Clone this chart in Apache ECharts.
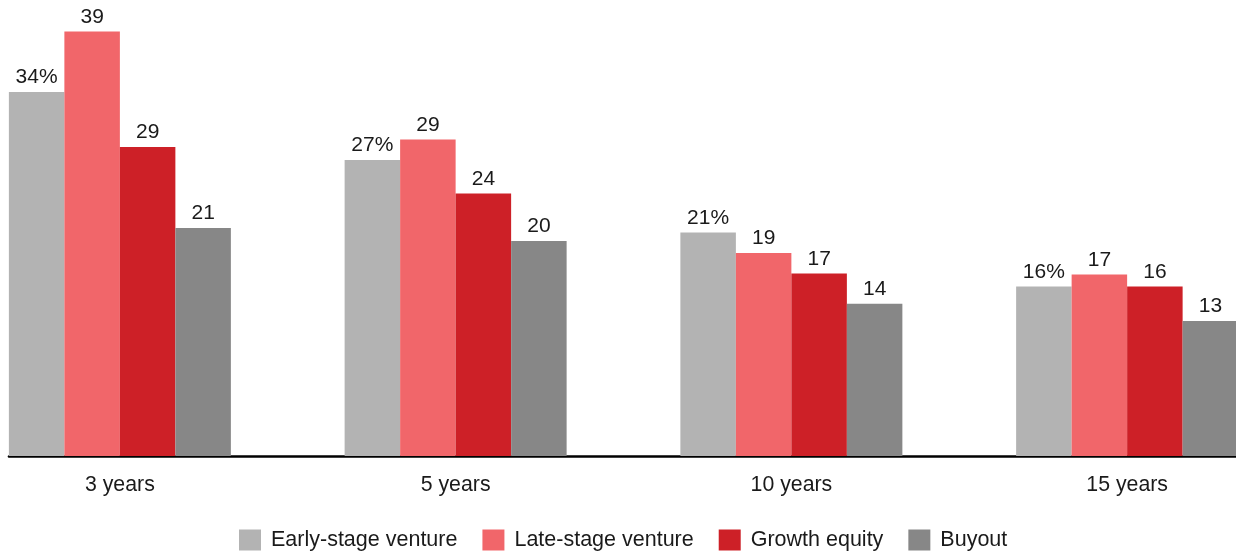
<!DOCTYPE html>
<html>
<head>
<meta charset="utf-8">
<script src="https://cdn.jsdelivr.net/npm/echarts@6/dist/echarts.min.js"></script>
<style>html,body{margin:0;padding:0;background:#fff}#c{width:1236px;height:555px}</style>
</head>
<body>
<div id="c"></div>
<script>
var categories = ['3 years', '5 years', '10 years', '15 years'];
var seriesNames = ['Early-stage venture', 'Late-stage venture', 'Growth equity', 'Buyout'];
var earlyStage = [33.7, 27.4, 20.7, 15.7];
var lateStage = [39.3, 29.3, 18.8, 16.8];
var growthEquity = [28.6, 24.3, 16.9, 15.7];
var buyout = [21.1, 19.9, 14.1, 12.5];
var colors = ['#b3b3b3', '#f1666a', '#cd2027', '#878787'];

var FONT = '"Liberation Sans", Arial, sans-serif';
var allData = [earlyStage, lateStage, growthEquity, buyout];

var chart = echarts.init(document.getElementById('c'), null, {renderer: 'canvas'});
chart.setOption({
  animation: false,
  backgroundColor: '#ffffff',
  textStyle: {fontFamily: FONT},
  legend: {
    left: 234,
    top: 524,
    itemWidth: 22,
    itemHeight: 21,
    itemGap: 25,
    icon: 'rect',
    textStyle: {fontSize: 21.5, color: '#1a1a1a', fontFamily: FONT, padding: [0, 0, 0, 5]},
    data: seriesNames
  },
  grid: [
    {left: -48, right: -59, top: 0, bottom: 99, containLabel: false, outerBoundsMode: 'none'},
    {left: 9, right: 0, top: 0, bottom: 99, containLabel: false, outerBoundsMode: 'none'}
  ],
  xAxis: [
    {
      type: 'category',
      gridIndex: 0,
      data: categories,
      axisLine: {show: false},
      axisTick: {show: false},
      axisLabel: {fontSize: 21.3, color: '#1a1a1a', fontFamily: FONT, margin: 19}
    },
    {
      type: 'value',
      gridIndex: 1,
      min: 0,
      max: 1,
      axisLine: {show: true, onZero: false, lineStyle: {color: '#000000', width: 2.6}},
      axisTick: {show: false},
      axisLabel: {show: false},
      splitLine: {show: false}
    }
  ],
  yAxis: [
    {type: 'value', gridIndex: 0, min: 0, max: 42.22, show: false, splitLine: {show: false}},
    {type: 'value', gridIndex: 1, min: 0, max: 1, show: false, splitLine: {show: false}}
  ],
  series: seriesNames.map(function (name, i) {
    return {
      name: name,
      type: 'bar',
      xAxisIndex: 0,
      yAxisIndex: 0,
      data: allData[i],
      barWidth: 55.5,
      barGap: '0%',
      itemStyle: {color: colors[i]},
      label: {
        show: true,
        position: 'top',
        distance: 4,
        fontSize: 21,
        color: '#1a1a1a',
        fontFamily: FONT,
        formatter: function (p) {
          var v = Math.round(p.value);
          return i === 0 ? v + '%' : String(v);
        }
      }
    };
  })
});
</script>
</body>
</html>
